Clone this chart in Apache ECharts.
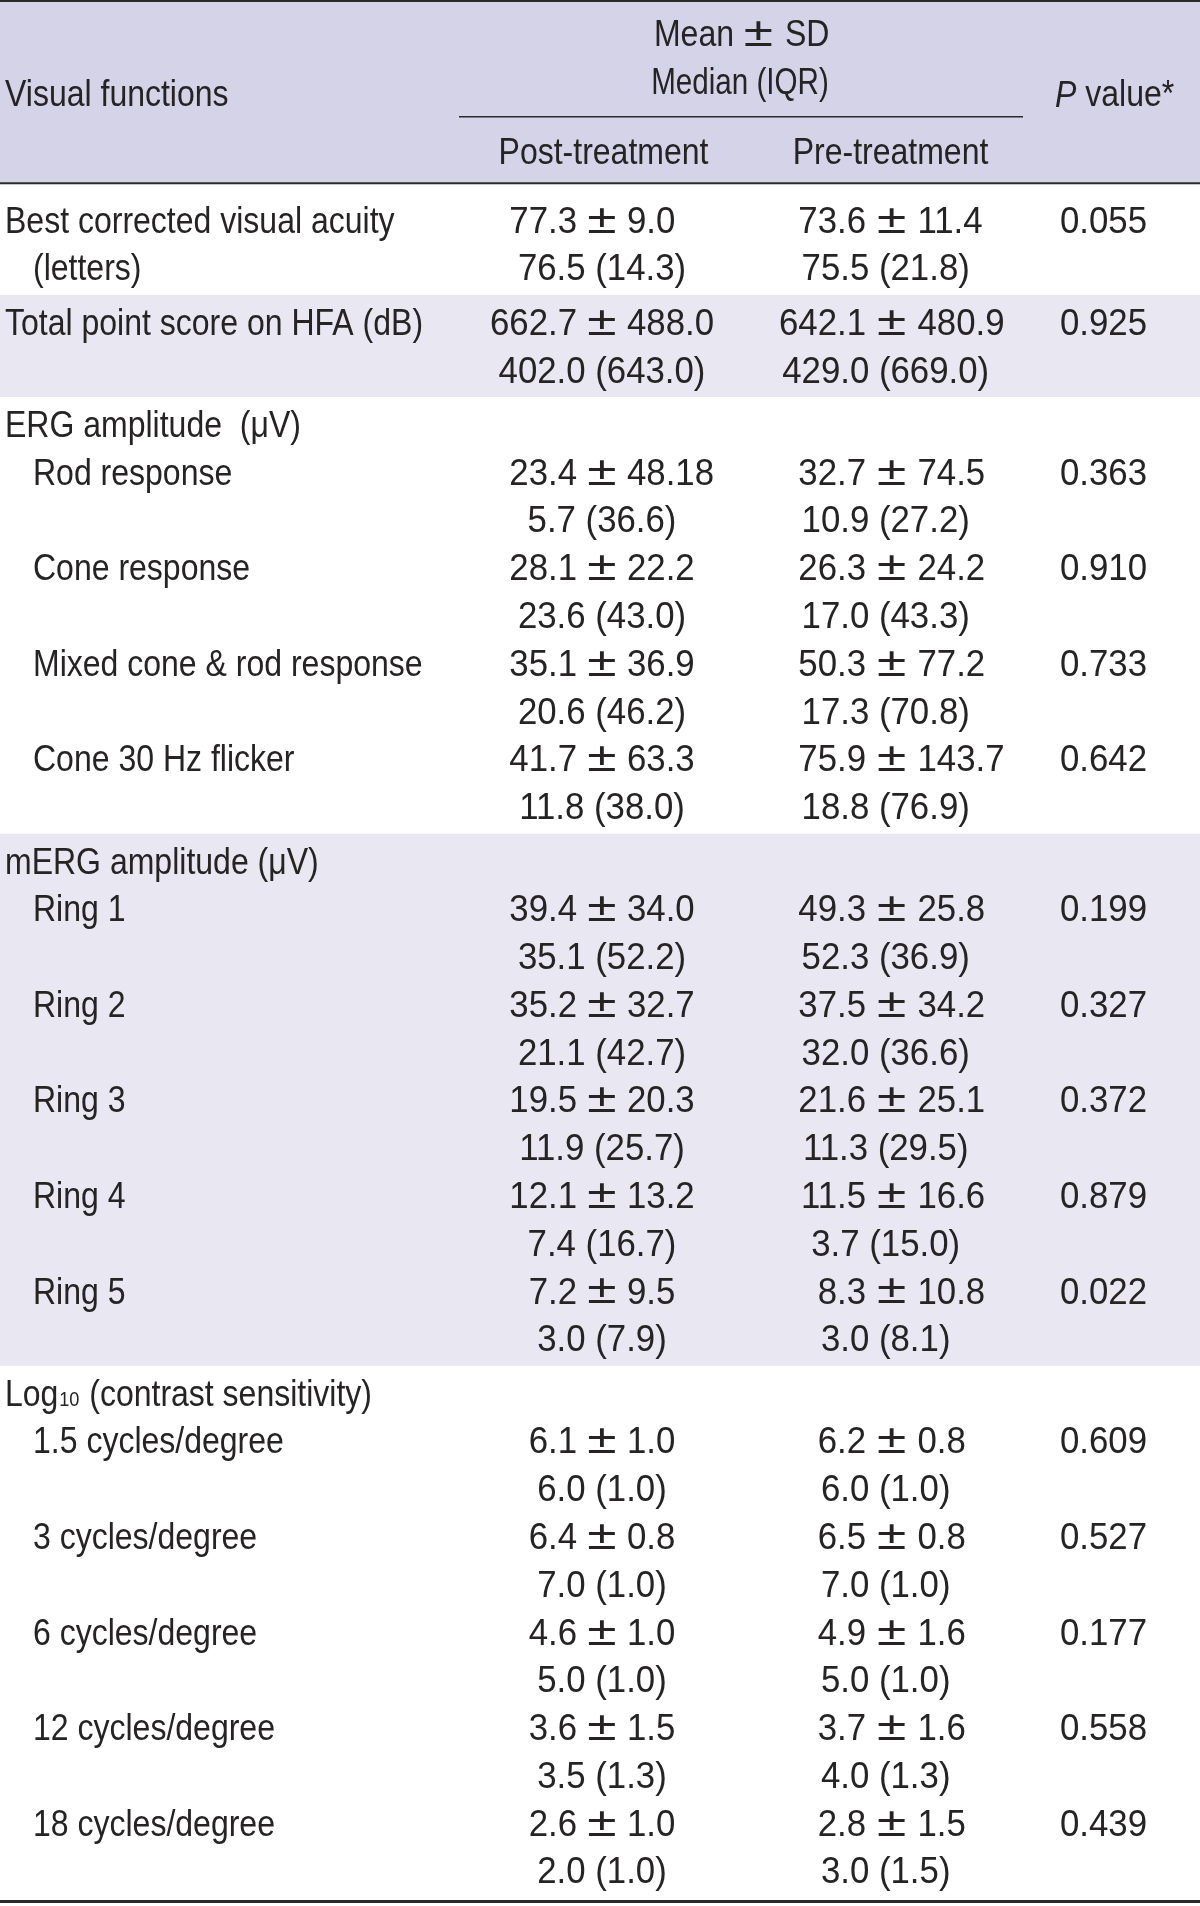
<!DOCTYPE html>
<html><head><meta charset="utf-8">
<script src="https://cdn.jsdelivr.net/npm/echarts@6/dist/echarts.min.js"></script>
<style>html,body{margin:0;padding:0;background:#fff}#c{width:1200px;height:1906px}</style>
</head><body><div id="c"></div>
<script>
// ---------------- DATA ----------------
const headerTop = ["Mean", "±", "SD"];
const headerMid = "Median (IQR)";
const headerFirst = "Visual functions";
const headerGroups = ["Post-treatment", "Pre-treatment"];
const headerP = ["P", " value*"];

const rowLabels = [
  "Best corrected visual acuity", "Total point score on HFA (dB)", "ERG amplitude  (μV)",
  "Rod response", "Cone response", "Mixed cone & rod response", "Cone 30 Hz flicker",
  "mERG amplitude (μV)", "Ring 1", "Ring 2", "Ring 3", "Ring 4", "Ring 5",
  "Log10 (contrast sensitivity)", "1.5 cycles/degree", "3 cycles/degree", "6 cycles/degree",
  "12 cycles/degree", "18 cycles/degree"
];
const rowLabelCont = ["(letters)", null, null, null, null, null, null, null, null, null, null, null, null, null, null, null, null, null, null];
const rowLevel   = [0, 0, 0, 1, 1, 1, 1, 0, 1, 1, 1, 1, 1, 0, 1, 1, 1, 1, 1];
const rowSection = [0, 1, 2, 2, 2, 2, 2, 3, 3, 3, 3, 3, 3, 4, 4, 4, 4, 4, 4];
const shadedSections = [1, 3];

const postMean   = ["77.3", "662.7", null, "23.4", "28.1", "35.1", "41.7", null, "39.4", "35.2", "19.5", "12.1", "7.2", null, "6.1", "6.4", "4.6", "3.6", "2.6"];
const postSD     = ["9.0", "488.0", null, "48.18", "22.2", "36.9", "63.3", null, "34.0", "32.7", "20.3", "13.2", "9.5", null, "1.0", "0.8", "1.0", "1.5", "1.0"];
const postMedian = ["76.5", "402.0", null, "5.7", "23.6", "20.6", "11.8", null, "35.1", "21.1", "11.9", "7.4", "3.0", null, "6.0", "7.0", "5.0", "3.5", "2.0"];
const postIQR    = ["14.3", "643.0", null, "36.6", "43.0", "46.2", "38.0", null, "52.2", "42.7", "25.7", "16.7", "7.9", null, "1.0", "1.0", "1.0", "1.3", "1.0"];
const preMean    = ["73.6", "642.1", null, "32.7", "26.3", "50.3", "75.9", null, "49.3", "37.5", "21.6", "11.5", "8.3", null, "6.2", "6.5", "4.9", "3.7", "2.8"];
const preSD      = ["11.4", "480.9", null, "74.5", "24.2", "77.2", "143.7", null, "25.8", "34.2", "25.1", "16.6", "10.8", null, "0.8", "0.8", "1.6", "1.6", "1.5"];
const preMedian  = ["75.5", "429.0", null, "10.9", "17.0", "17.3", "18.8", null, "52.3", "32.0", "11.3", "3.7", "3.0", null, "6.0", "7.0", "5.0", "4.0", "3.0"];
const preIQR     = ["21.8", "669.0", null, "27.2", "43.3", "70.8", "76.9", null, "36.9", "36.6", "29.5", "15.0", "8.1", null, "1.0", "1.0", "1.0", "1.3", "1.5"];
const pValues    = ["0.055", "0.925", null, "0.363", "0.910", "0.733", "0.642", null, "0.199", "0.327", "0.372", "0.879", "0.022", null, "0.609", "0.527", "0.177", "0.558", "0.439"];

// ---------------- LAYOUT / STYLE ----------------
const FONT = "'Liberation Sans', Arial, Helvetica, sans-serif";
const FS = 37, SX = 0.865, SXN = 0.94, INK = '#262324', RULE = '#2a2a2a';
const HEAD_BG = '#d4d3e7', BAND_BG = '#e8e7f2';
const GAP = 0.138;            // extra space between sections (in line units)
const LINE_PX = 47.78, FIRST_PX = 218.9, H_PX = 1906;
const TEXT_DY = 3.5;          // baseline correction for 'middle' alignment
const X_LABEL = [5, 33];
const COLS = [
  { meanR: 577, pmC: 602, sdL: 627, medC: 602 },
  { meanR: 866, pmC: 891.7, sdL: 917.5, medC: 885.7 }
];
const X_P = 1060;

// line index for each row
const firstLine = [];
(function () { let l = 0; rowLabels.forEach((_, r) => { firstLine.push(l); l += (postMean[r] !== null || rowLabelCont[r]) ? 2 : 1; }); })();
const yVal = (line, sec) => line + sec * GAP;

const chart = echarts.init(document.getElementById('c'), null, { renderer: 'canvas' });

function T(api, x, v, text, align, extra, sx) {
  const p = api.coord([x, v]);
  return {
    type: 'text', x: p[0], y: p[1] + TEXT_DY, scaleX: sx || SX, silent: true,
    style: Object.assign({ text: text, x: 0, y: 0, align: align, verticalAlign: 'middle',
      fontFamily: FONT, fontSize: FS, fill: INK }, extra || {})
  };
}
function PM(api, x, v) {
  const p = api.coord([x, v]);
  return { type: 'text', x: p[0], y: p[1] + TEXT_DY - 1.2, scaleX: 1.3, silent: true,
    style: { text: '±', x: 0, y: 0, align: 'center', verticalAlign: 'middle', fontFamily: FONT, fontSize: 41, fill: INK } };
}

// header positions (line units relative to first body line)
const H = { top: -4.56, mean: -3.9, median: -2.9, title: -2.641, group: -1.438, midRule: -2.139, headRule: -0.745 };
const lastLine = firstLine[firstLine.length - 1] + 1;
const lastV = yVal(lastLine, rowSection[rowSection.length - 1]);

const option = {
  animation: false,
  grid: { left: 0, right: 0, top: 0, bottom: 0 },
  xAxis: { type: 'value', min: 0, max: 1200, show: false },
  yAxis: { type: 'value', min: -FIRST_PX / LINE_PX, max: (H_PX - FIRST_PX) / LINE_PX, inverse: true, show: false },
  series: [
    { // background bands
      type: 'custom', clip: false, silent: true, z: 1,
      data: [[0, H.headRule]].concat(shadedSections.map(s => [1, s])),
      renderItem: function (params, api) {
        const i = params.dataIndex;
        let v0, v1;
        if (i === 0) { v0 = -FIRST_PX / LINE_PX; v1 = H.headRule; }
        else {
          const s = shadedSections[i - 1];
          const rows = rowSection.map((x, r) => x === s ? r : -1).filter(r => r >= 0);
          const lr = rows[rows.length - 1];
          const fl = firstLine[rows[0]];
          const ll = firstLine[lr] + ((postMean[lr] !== null || rowLabelCont[lr]) ? 1 : 0);
          v0 = yVal(fl, s) - 0.546; v1 = yVal(ll, s) + 0.588;
        }
        const a = api.coord([0, v0]), b = api.coord([1200, v1]);
        return { type: 'rect', shape: { x: a[0], y: a[1], width: b[0] - a[0], height: b[1] - a[1] },
          style: { fill: i === 0 ? HEAD_BG : BAND_BG } };
      }
    },
    { // rules
      type: 'custom', clip: false, silent: true, z: 3,
      data: [[0, H.top], [0, H.midRule], [0, H.headRule], [0, lastV + 0.666]],
      renderItem: function (params, api) {
        const i = params.dataIndex;
        const v = api.value(1);
        const x0 = i === 1 ? 459 : 0, x1 = i === 1 ? 1023 : 1200;
        const lw = [2, 1.5, 2, 3][i];
        const a = api.coord([x0, v]), b = api.coord([x1, v]);
        return { type: 'line', shape: { x1: a[0], y1: a[1], x2: b[0], y2: b[1] },
          style: { stroke: RULE, lineWidth: lw } };
      }
    },
    { // header texts
      type: 'custom', clip: false, silent: true, z: 4,
      data: [[0, H.mean]],
      renderItem: function (params, api) {
        const ch = [];
        ch.push(T(api, 734, H.mean, headerTop[0], 'right'));
        ch.push(PM(api, 758.5, H.mean));
        ch.push(T(api, 785, H.mean, headerTop[2], 'left'));
        ch.push(T(api, 740, H.median, headerMid, 'center', null, 0.8));
        ch.push(T(api, X_LABEL[0], H.title, headerFirst, 'left'));
        ch.push(T(api, 603.5, H.group, headerGroups[0], 'center'));
        ch.push(T(api, 890.5, H.group, headerGroups[1], 'center'));
        ch.push(T(api, 1055, H.title, '{i|' + headerP[0] + '}{n|' + headerP[1] + '}', 'left', {
          rich: { i: { fontStyle: 'italic', fontFamily: FONT, fontSize: FS, fill: INK },
                  n: { fontFamily: FONT, fontSize: FS, fill: INK } } }));
        return { type: 'group', children: ch };
      }
    },
    { // body texts
      type: 'custom', clip: false, silent: true, z: 5,
      data: rowLabels.map((_, r) => [0, yVal(firstLine[r], rowSection[r])]),
      renderItem: function (params, api) {
        const r = params.dataIndex;
        const v0 = api.value(1), v1 = v0 + 1;
        const ch = [];
        const lx = X_LABEL[rowLevel[r]];
        const lab = rowLabels[r];
        if (/^Log10/.test(lab)) {
          ch.push(T(api, lx, v0, '{a|Log}{s|10}{a|' + lab.slice(5) + '}', 'left', {
            rich: { a: { fontFamily: FONT, fontSize: FS, fill: INK },
                    s: { fontFamily: FONT, fontSize: 21, fill: INK, verticalAlign: 'bottom', padding: [0, 1, 3, 1] } } }));
        } else {
          ch.push(T(api, lx, v0, lab, 'left'));
        }
        if (rowLabelCont[r]) ch.push(T(api, X_LABEL[1], v1, rowLabelCont[r], 'left'));
        const sets = [[postMean, postSD, postMedian, postIQR], [preMean, preSD, preMedian, preIQR]];
        sets.forEach((s, c) => {
          if (s[0][r] === null) return;
          const C = COLS[c];
          ch.push(T(api, C.meanR, v0, s[0][r], 'right', null, SXN));
          ch.push(PM(api, C.pmC, v0));
          ch.push(T(api, C.sdL, v0, s[1][r], 'left', null, SXN));
          ch.push(T(api, C.medC, v1, s[2][r] + ' (' + s[3][r] + ')', 'center', null, SXN));
        });
        if (pValues[r] !== null) ch.push(T(api, X_P, v0, pValues[r], 'left', null, SXN));
        return { type: 'group', children: ch };
      }
    }
  ]
};
chart.setOption(option);
</script>
</body></html>
